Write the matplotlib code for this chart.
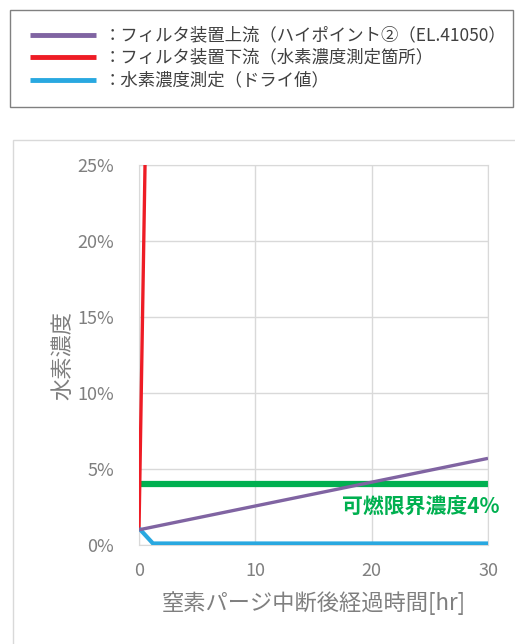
import numpy as np
import matplotlib.pyplot as plt
from matplotlib.lines import Line2D
from matplotlib.patches import Rectangle
from matplotlib.ticker import PercentFormatter

plt.rcParams['font.family'] = ['Noto Sans CJK JP', 'DejaVu Sans']

# ---- data ----
series_names = ['：フィルタ装置上流（ハイポイント②（EL.41050）',
                '：フィルタ装置下流（水素濃度測定箇所）',
                '：水素濃度測定（ドライ値）']
series_colors = ['#8064A2', '#EE1C25', '#29A8E0']
series_widths = [2.4, 2.4, 3.0]

time_up = [0, 30]
h2_up = [1.0, 5.7]            # %
time_down = [0, 0.55]
h2_down = [1.0, 26.5]         # %
time_dry = [0, 1.2, 30]
h2_dry = [1.1, 0.1, 0.1]      # %

lfl_value = 4.0               # %
lfl_label = '可燃限界濃度4%'

x_ticks = [0, 10, 20, 30]
y_ticks = [0, 5, 10, 15, 20, 25]

gray_text = '#7F7F7F'
grid_col = '#D9D9D9'

fig = plt.figure(figsize=(5.15, 6.44), dpi=100)

# outer chart frame (runs off the right/bottom edge)
fig.patches.append(Rectangle((13 / 515, -0.05), 1.0, 1 - 140 / 644 + 0.05,
                             transform=fig.transFigure, fill=False,
                             edgecolor='#D9D9D9', lw=1.0))

# legend box drawn by hand
fig.patches.append(Rectangle((10 / 515, 1 - 107 / 644), 503 / 515, 97 / 644,
                             transform=fig.transFigure, fill=False,
                             edgecolor='#808080', lw=1.0))
leg_y = [35, 57, 80]
for name, col, yy in zip(series_names, series_colors, leg_y):
    fig.add_artist(Line2D([30 / 515, 96 / 515], [1 - yy / 644] * 2,
                          transform=fig.transFigure, color=col, lw=3.5,
                          solid_capstyle='butt'))
    fig.text(104 / 515, 1 - yy / 644, name, fontsize=12.5, color='#404040',
             va='center', ha='left')

ax = fig.add_axes([139 / 515, 99 / 644, 349 / 515, 380 / 644])

ax.plot(time_up, h2_up, color=series_colors[0], lw=series_widths[0],
        solid_capstyle='butt', zorder=4)
ax.plot(time_down, h2_down, color=series_colors[1], lw=series_widths[1],
        solid_capstyle='butt', zorder=3)
ax.plot(time_dry, h2_dry, color=series_colors[2], lw=series_widths[2],
        solid_capstyle='butt', zorder=3)
ax.plot([x_ticks[0], x_ticks[-1]], [lfl_value, lfl_value], color='#00B050',
        lw=4.5, solid_capstyle='butt', zorder=2)
ax.text(31.0, lfl_value - 0.8, lfl_label, color='#00B050', fontsize=15,
        fontweight='bold', ha='right', va='top', clip_on=False)

ax.set_xlim(0, 30)
ax.set_ylim(0, 25)
ax.set_xticks(x_ticks)
ax.set_yticks(y_ticks)
ax.yaxis.set_major_formatter(PercentFormatter(decimals=0))
ax.grid(True, color=grid_col, lw=1.0)
ax.set_axisbelow(True)
for s in ax.spines.values():
    s.set_color(grid_col)
ax.tick_params(length=0, labelsize=13, colors=gray_text)
ax.tick_params(axis='y', pad=18)
ax.tick_params(axis='x', pad=12)

ax.set_xlabel('窒素パージ中断後経過時間[hr]', fontsize=16, color=gray_text,
              labelpad=8)
ax.set_ylabel('水素濃度', fontsize=16, color=gray_text, labelpad=2)

fig.savefig('out.png', dpi=100)
